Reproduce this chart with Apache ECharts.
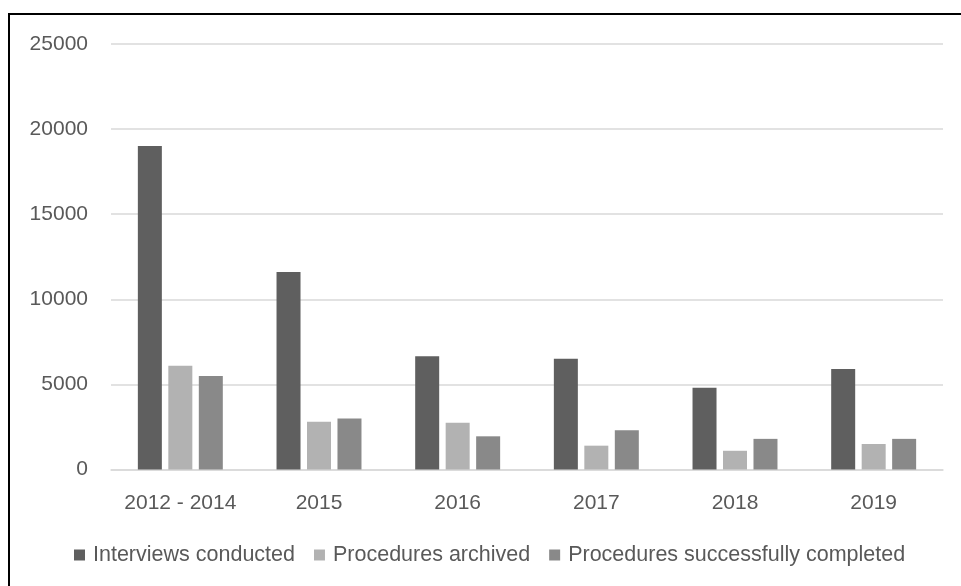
<!DOCTYPE html>
<html>
<head>
<meta charset="utf-8">
<script src="https://cdn.jsdelivr.net/npm/echarts@6/dist/echarts.min.js"></script>
<style>
html,body{margin:0;padding:0;background:#fff;}
#chart{width:961px;height:586px;}
</style>
</head>
<body>
<div id="chart"></div>
<script>
const categories = ['2012 - 2014', '2015', '2016', '2017', '2018', '2019'];
const interviewsConducted = [19000, 11600, 6650, 6500, 4800, 5900];
const proceduresArchived = [6100, 2800, 2750, 1400, 1100, 1500];
const proceduresCompleted = [5500, 3000, 1950, 2300, 1800, 1800];
const seriesNames = ['Interviews conducted', 'Procedures archived', 'Procedures successfully completed'];
const colors = ['#5f5f5f', '#b2b2b2', '#898989'];

const fontFamily = '"Liberation Sans", Arial, sans-serif';
const textColor = '#595959';

const chart = echarts.init(document.getElementById('chart'));
const seriesData = [interviewsConducted, proceduresArchived, proceduresCompleted];
chart.setOption({
  animation: false,
  color: colors,
  graphic: [{
    type: 'rect',
    shape: { x: 9, y: 14, width: 1000, height: 1000 },
    style: { fill: 'none', stroke: '#000', lineWidth: 2 },
    silent: true
  }],
  grid: { left: 111, right: 18, top: 44, bottom: 116.5, containLabel: false, outerBoundsMode: 'none' },
  legend: {
    top: 544,
    left: 74,
    padding: 0,
    itemWidth: 11,
    itemHeight: 11,
    itemGap: 19,
    icon: 'rect',
    textStyle: { color: textColor, fontSize: 21.5, fontFamily: fontFamily, padding: [0, 0, 0, 3] },
    data: seriesNames
  },
  xAxis: {
    type: 'category',
    data: categories,
    axisLine: { lineStyle: { color: '#d9d9d9', width: 1.5 } },
    axisTick: { show: false },
    axisLabel: { color: textColor, fontSize: 21, fontFamily: fontFamily, margin: 23, interval: 0 }
  },
  yAxis: {
    type: 'value',
    min: 0,
    max: 25000,
    interval: 5000,
    axisLine: { show: false },
    axisTick: { show: false },
    splitLine: { lineStyle: { color: '#d9d9d9', width: 1.5 } },
    axisLabel: { color: textColor, fontSize: 21, fontFamily: fontFamily, margin: 23, formatter: v => String(v) }
  },
  series: seriesNames.map((name, i) => ({
    name: name,
    type: 'bar',
    data: seriesData[i],
    barWidth: 24,
    barGap: '27%',
    itemStyle: { color: colors[i] }
  }))
});
</script>
</body>
</html>
